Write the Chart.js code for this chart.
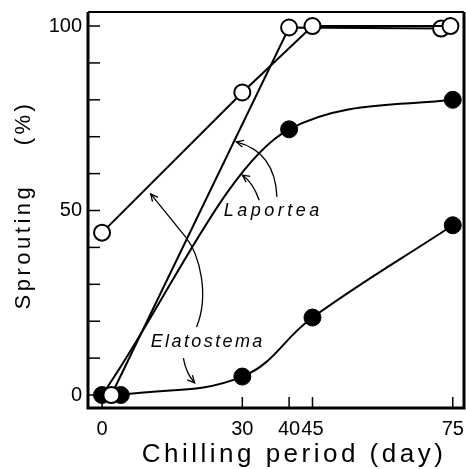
<!DOCTYPE html>
<html>
<head>
<meta charset="utf-8">
<script src="https://cdn.jsdelivr.net/npm/chart.js@4"></script>
<style>
  html, body { margin: 0; padding: 0; background: #fff; }
</style>
</head>
<body>
<canvas id="myChart" width="466" height="469"></canvas>
<script>
// axis ticks
const xTicks = [0, 30, 40, 45, 75];
const yTicks = [0, 10, 20, 30, 40, 50, 60, 70, 80, 90, 100];
const yLabelled = [0, 50, 100];

// Laportea: open = one treatment, filled = the other
const laporteaOpenDays = [2, 40, 72.5];
const laporteaOpenValues = [0, 99.6, 99.3];
const laporteaFilledDays = [0, 40, 75];
const laporteaFilledValues = [0, 72, 80];

// Elatostema
const elatostemaOpenDays = [0, 30, 45, 74.5];
const elatostemaOpenValues = [44, 82, 100, 100];
const elatostemaFilledDays = [4, 30, 45, 75];
const elatostemaFilledValues = [0, 5, 21, 46];

function toPoints(days, values) {
  return days.map((d, i) => ({ x: d, y: values[i] }));
}

// label + arrow positions, in data units
const notes = [
  { text: "Laportea", x: 36.6, y: 49.9, spacing: 3.5 },
  { text: "Elatostema", x: 22.6, y: 14.4, spacing: 2.4 },
];
const arrows = [
  { from: [37.4, 53.7], curve: [[37.0, 65.9]], to: [28.7, 68.6] },
  { from: [33.6, 52.8], curve: [[32.3, 57.5]], to: [30.0, 59.6] },
  { from: [20.2, 18.4], curve: [[23.0, 27.1], [20.9, 37.9], [17.9, 42.8]], to: [10.4, 54.5] },
  { from: [17.4, 10.0], curve: [[17.9, 6.0]], to: [19.8, 3.3] },
];

const ink = "#000";

const frameAndTicks = {
  id: "frameAndTicks",
  beforeDatasetsDraw(chart) {
    const { ctx, chartArea: a, scales } = chart;
    ctx.save();
    ctx.strokeStyle = ink;
    ctx.lineWidth = 1.5;
    yTicks.forEach((v) => {
      const py = scales.y.getPixelForValue(v);
      ctx.beginPath();
      ctx.moveTo(a.left, py);
      ctx.lineTo(a.left + 12, py);
      ctx.stroke();
    });
    xTicks.forEach((v) => {
      const px = scales.x.getPixelForValue(v);
      ctx.beginPath();
      ctx.moveTo(px, a.bottom);
      ctx.lineTo(px, a.bottom - 11);
      ctx.stroke();
    });
    ctx.restore();
  },
  afterDraw(chart) {
    const { ctx, chartArea: a, scales } = chart;
    const X = (v) => scales.x.getPixelForValue(v);
    const Y = (v) => scales.y.getPixelForValue(v);
    ctx.save();
    ctx.strokeStyle = ink;
    ctx.fillStyle = ink;

    // frame
    ctx.lineWidth = 3;
    ctx.beginPath();
    ctx.moveTo(a.left, a.top);
    ctx.lineTo(a.left, a.bottom);
    ctx.lineTo(a.right, a.bottom);
    ctx.lineTo(a.right, a.top);
    ctx.stroke();
    ctx.lineWidth = 2;
    ctx.beginPath();
    ctx.moveTo(a.left, a.top);
    ctx.lineTo(a.right, a.top);
    ctx.stroke();

    // axis titles
    ctx.letterSpacing = "3.5px";
    ctx.textAlign = "center";
    ctx.textBaseline = "middle";
    ctx.font = "26px 'Liberation Sans'";
    ctx.fillText("Chilling period (day)", 294, 455);
    ctx.save();
    ctx.translate(24, 205);
    ctx.rotate(-Math.PI / 2);
    ctx.font = "22px 'Liberation Sans'";
    ctx.fillText("Sprouting    (%)", 0, 0);
    ctx.restore();

    // species labels
    ctx.font = "italic 18px 'Liberation Sans'";
    notes.forEach((n) => {
      ctx.letterSpacing = n.spacing + "px";
      ctx.fillText(n.text, X(n.x), Y(n.y));
    });

    // arrows
    ctx.letterSpacing = "0px";
    ctx.lineWidth = 1.3;
    arrows.forEach((ar) => {
      const p0 = [X(ar.from[0]), Y(ar.from[1])];
      const c = ar.curve.map((q) => [X(q[0]), Y(q[1])]);
      const p1 = [X(ar.to[0]), Y(ar.to[1])];
      ctx.beginPath();
      ctx.moveTo(p0[0], p0[1]);
      let prev;
      if (c.length === 1) {
        ctx.quadraticCurveTo(c[0][0], c[0][1], p1[0], p1[1]);
        prev = c[0];
      } else {
        ctx.bezierCurveTo(c[0][0], c[0][1], c[1][0], c[1][1], c[2][0], c[2][1]);
        ctx.lineTo(p1[0], p1[1]);
        prev = c[2];
      }
      ctx.stroke();
      const ang = Math.atan2(p1[1] - prev[1], p1[0] - prev[0]);
      const len = 8;
      ctx.beginPath();
      ctx.moveTo(p1[0] - len * Math.cos(ang - 0.45), p1[1] - len * Math.sin(ang - 0.45));
      ctx.lineTo(p1[0], p1[1]);
      ctx.lineTo(p1[0] - len * Math.cos(ang + 0.45), p1[1] - len * Math.sin(ang + 0.45));
      ctx.stroke();
    });
    ctx.restore();
  },
};

const openStyle = {
  borderColor: ink,
  borderWidth: 2,
  pointBackgroundColor: "#fff",
  pointBorderColor: ink,
  pointBorderWidth: 2,
  pointRadius: 8,
  tension: 0,
};
const filledStyle = {
  borderColor: ink,
  borderWidth: 2,
  pointBackgroundColor: ink,
  pointBorderColor: ink,
  pointBorderWidth: 1,
  pointRadius: 8.5,
};

const ctx = document.getElementById("myChart");

new Chart(ctx, {
  type: "line",
  data: {
    datasets: [
      { label: "Elatostema (open)", data: toPoints(elatostemaOpenDays, elatostemaOpenValues), ...openStyle },
      { label: "Laportea (open)", data: toPoints(laporteaOpenDays, laporteaOpenValues), ...openStyle },
      { label: "Laportea (filled)", data: toPoints(laporteaFilledDays, laporteaFilledValues), ...filledStyle, cubicInterpolationMode: "monotone" },
      { label: "Elatostema (filled)", data: toPoints(elatostemaFilledDays, elatostemaFilledValues), ...filledStyle, tension: 0.4 },
    ],
  },
  options: {
    responsive: false,
    animation: false,
    devicePixelRatio: 1,
    layout: { autoPadding: false, padding: { top: 12, right: 2, left: 0, bottom: 0 } },
    plugins: { legend: { display: false }, tooltip: { enabled: false } },
    scales: {
      x: {
        type: "linear",
        min: -3,
        max: 77.4,
        afterFit: (s) => {
          s.height = 61;
          s.paddingLeft = 0;
          s.paddingRight = 0;
        },
        afterBuildTicks: (s) => { s.ticks = xTicks.map((v) => ({ value: v })); },
        grid: { display: false, drawTicks: false },
        border: { display: false },
        ticks: {
          autoSkip: false,
          maxRotation: 0,
          padding: 9,
          color: ink,
          font: { family: "'Liberation Sans'", size: 20 },
        },
      },
      y: {
        type: "linear",
        min: -3.52,
        max: 103.8,
        afterFit: (s) => {
          s.width = 88;
          s.paddingTop = 0;
          s.paddingBottom = 0;
        },
        afterBuildTicks: (s) => { s.ticks = yTicks.map((v) => ({ value: v })); },
        grid: { display: false, drawTicks: false },
        border: { display: false },
        ticks: {
          padding: 6,
          color: ink,
          font: { family: "'Liberation Sans'", size: 20 },
          callback: (v) => (yLabelled.includes(v) ? String(v) : ""),
        },
      },
    },
  },
  plugins: [frameAndTicks],
});
</script>
</body>
</html>
